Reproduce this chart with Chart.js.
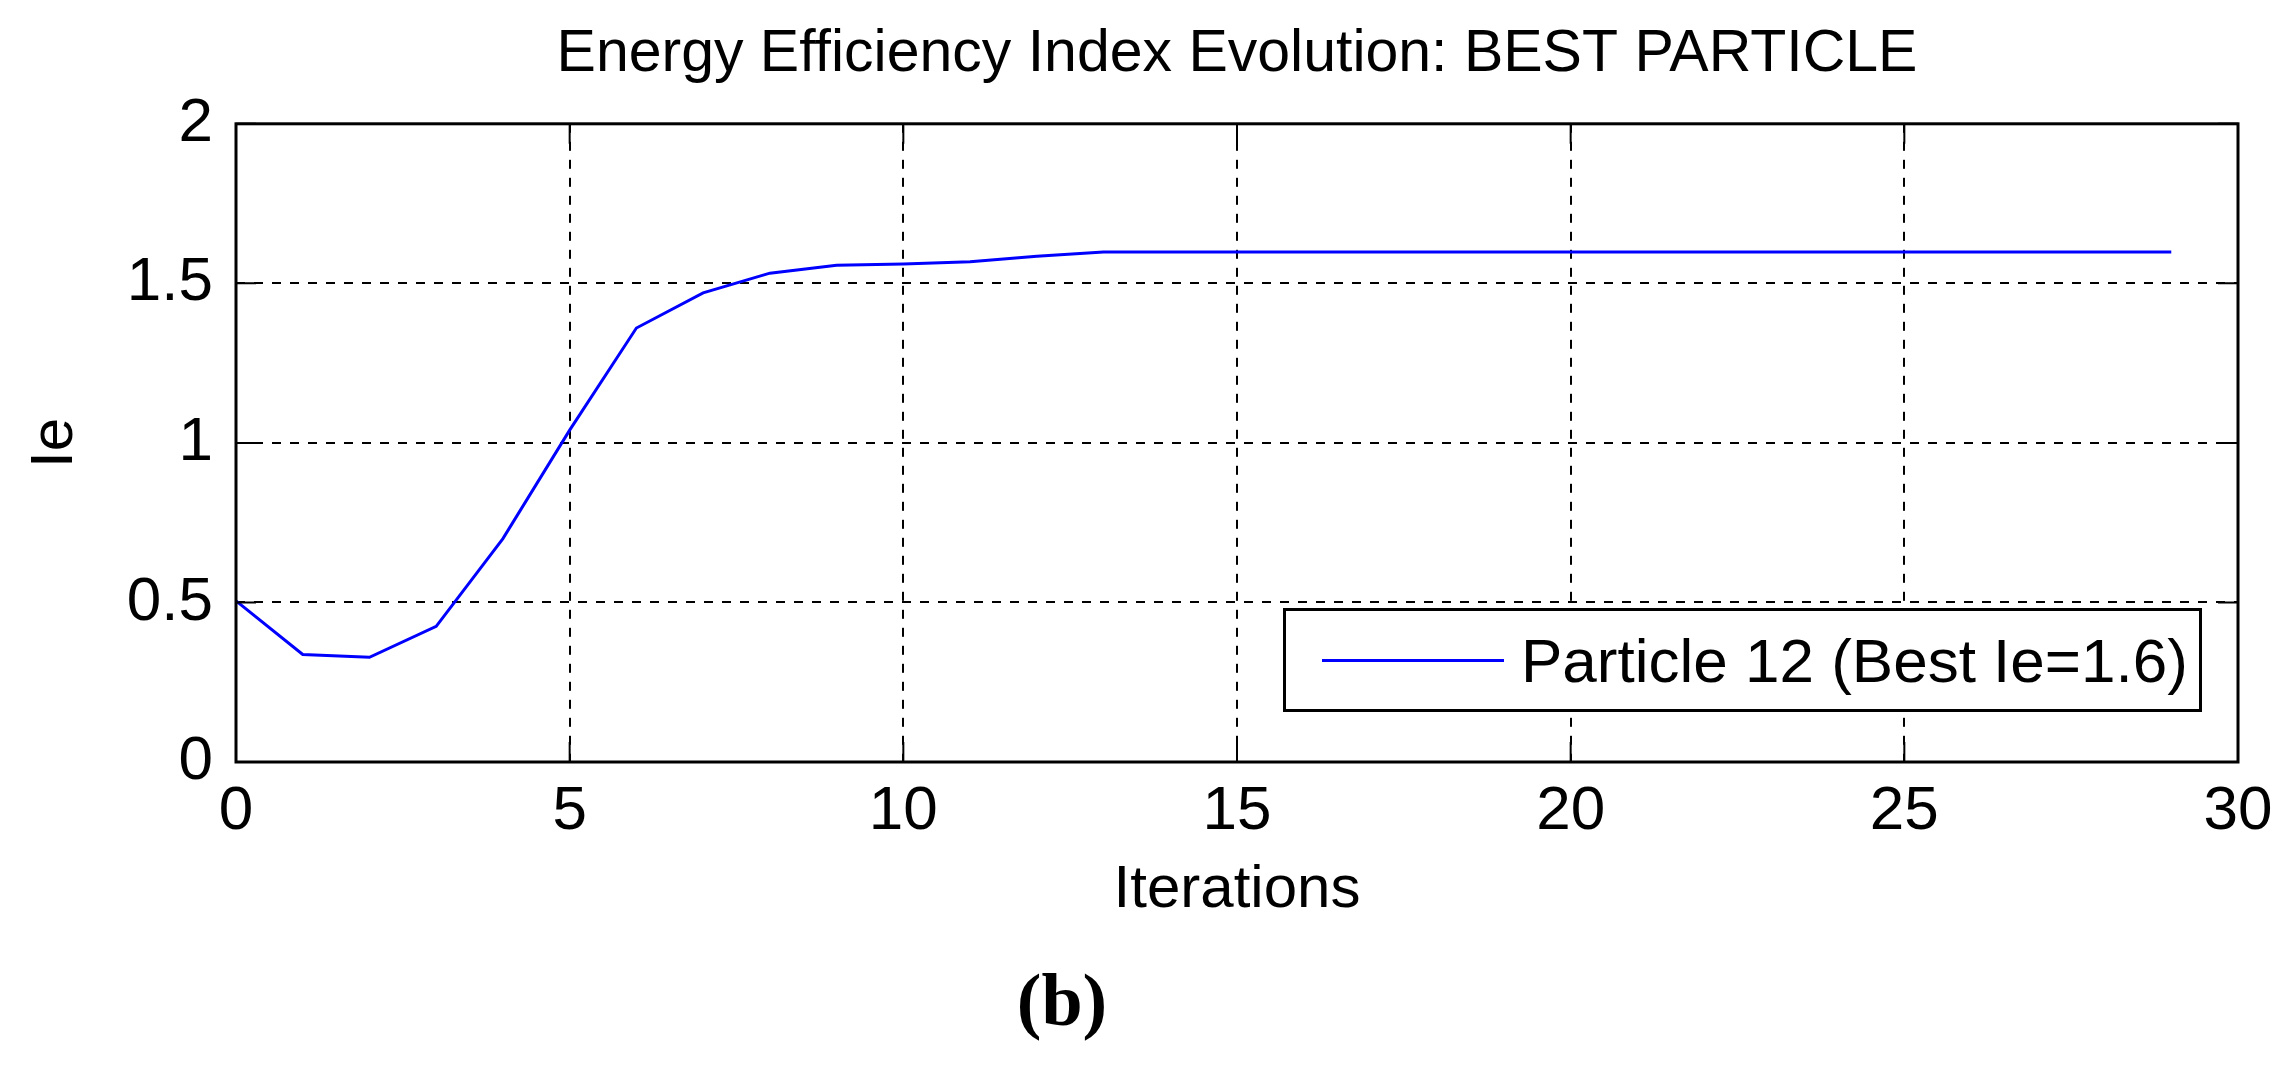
<!DOCTYPE html>
<html>
<head>
<meta charset="utf-8">
<title>Energy Efficiency Index Evolution</title>
<script src="https://cdn.jsdelivr.net/npm/chart.js@4.4.1/dist/chart.umd.min.js"></script>
<style>
  html, body { margin: 0; padding: 0; background: #fff; }
  #wrap { position: relative; width: 2286px; height: 1066px; }
  #legend {
    position: absolute; left: 1283px; top: 608px;
    width: 913px; height: 98px;
    border: 3px solid #000; background: #fff;
    display: flex; align-items: center;
    font-family: 'Liberation Sans', Arial, sans-serif; font-size: 62px; color: #000;
  }
  #legend .swatch { margin-left: 36px; width: 182px; height: 3px; }
  #legend .txt { margin-left: 17px; white-space: nowrap; }
  #caption {
    position: absolute; left: 912px; top: 963px; width: 300px;
    text-align: center; line-height: 1;
    font-family: 'Liberation Serif', 'Times New Roman', serif; font-weight: bold; font-size: 74px;
  }
</style>
</head>
<body>
<div id="wrap">
  <canvas id="ieChart"></canvas>
  <div id="legend"></div>
  <div id="caption">(b)</div>
</div>
<script>
const chartTitle = "Energy Efficiency Index Evolution: BEST PARTICLE";
const seriesLabel = "Particle 12 (Best Ie=1.6)";

const iterations = [0, 1, 2, 3, 4, 5, 6, 7, 8, 9, 10, 11, 12, 13, 14, 15, 16, 17, 18, 19, 20, 21, 22, 23, 24, 25, 26, 27, 28, 29];
const ieValues = [0.505, 0.337, 0.328, 0.425, 0.70, 1.04, 1.36, 1.47, 1.532, 1.557, 1.561, 1.568, 1.585, 1.598, 1.598,
  1.598, 1.598, 1.598, 1.598, 1.598, 1.598, 1.598, 1.598, 1.598, 1.598, 1.598, 1.598, 1.598, 1.598, 1.598];

const xTicks = [0, 5, 10, 15, 20, 25, 30];
const yTicks = [0, 0.5, 1, 1.5, 2];

Chart.defaults.font.family = "'Liberation Sans', Arial, sans-serif";
Chart.defaults.color = "#000";

// box round the plot + small inward ticks, like the matlab axes
const axesBox = {
  id: "axesBox",
  afterDraw(chart) {
    const { ctx, chartArea: a, scales } = chart;
    const len = 20;
    ctx.save();
    ctx.strokeStyle = "#000";
    ctx.lineWidth = 2;
    ctx.beginPath();
    scales.x.ticks.forEach(t => {
      const px = scales.x.getPixelForValue(t.value);
      ctx.moveTo(px, a.bottom); ctx.lineTo(px, a.bottom - len);
      ctx.moveTo(px, a.top); ctx.lineTo(px, a.top + len);
    });
    scales.y.ticks.forEach(t => {
      const py = scales.y.getPixelForValue(t.value);
      ctx.moveTo(a.left, py); ctx.lineTo(a.left + len, py);
      ctx.moveTo(a.right, py); ctx.lineTo(a.right - len, py);
    });
    ctx.stroke();
    ctx.lineWidth = 3;
    ctx.strokeRect(a.left, a.top, a.right - a.left, a.bottom - a.top);
    ctx.restore();
  }
};

// legend as html box inside the plot
const htmlLegend = {
  id: "htmlLegend",
  afterUpdate(chart) {
    const box = document.getElementById("legend");
    box.innerHTML = "";
    chart.data.datasets.forEach(ds => {
      const sw = document.createElement("span");
      sw.className = "swatch";
      sw.style.background = ds.borderColor;
      const tx = document.createElement("span");
      tx.className = "txt";
      tx.textContent = ds.label;
      box.appendChild(sw);
      box.appendChild(tx);
    });
  }
};

const ctx = document.getElementById("ieChart");

new Chart(ctx, {
  type: "line",
  data: {
    datasets: [{
      label: seriesLabel,
      data: iterations.map((it, i) => ({ x: it, y: ieValues[i] })),
      borderColor: "#0000ff",
      borderWidth: 3,
      pointRadius: 0,
      tension: 0,
      fill: false
    }]
  },
  options: {
    responsive: true,
    maintainAspectRatio: false,
    animation: false,
    layout: { padding: { left: 0, top: 0, right: 48, bottom: 134 } },
    plugins: {
      legend: { display: false },
      tooltip: { enabled: false },
      title: {
        display: true,
        text: chartTitle,
        fullSize: false,
        color: "#000",
        font: { size: 59, weight: "normal" },
        padding: { top: 19, bottom: 34 }
      }
    },
    scales: {
      x: {
        type: "linear",
        min: 0,
        max: 30,
        afterBuildTicks: s => { s.ticks = xTicks.map(v => ({ value: v })); },
        afterFit: s => { s.height = 170; },
        grid: { color: "#000", lineWidth: 2, drawTicks: false },
        border: { display: false, dash: [9, 9] },
        ticks: { font: { size: 62 }, padding: 13, maxRotation: 0, callback: v => String(v) },
        title: { display: true, text: "Iterations", font: { size: 60 }, padding: { bottom: 6 } }
      },
      y: {
        type: "linear",
        min: 0,
        max: 2,
        afterBuildTicks: s => { s.ticks = yTicks.map(v => ({ value: v })); },
        afterFit: s => { s.width = 236; },
        grid: { color: "#000", lineWidth: 2, drawTicks: false },
        border: { display: false, dash: [9, 9] },
        ticks: { font: { size: 62 }, padding: 23, callback: v => String(v) },
        title: { display: true, text: "Ie", font: { size: 60 }, padding: { top: 19 } }
      }
    }
  },
  plugins: [axesBox, htmlLegend]
});
</script>
</body>
</html>
